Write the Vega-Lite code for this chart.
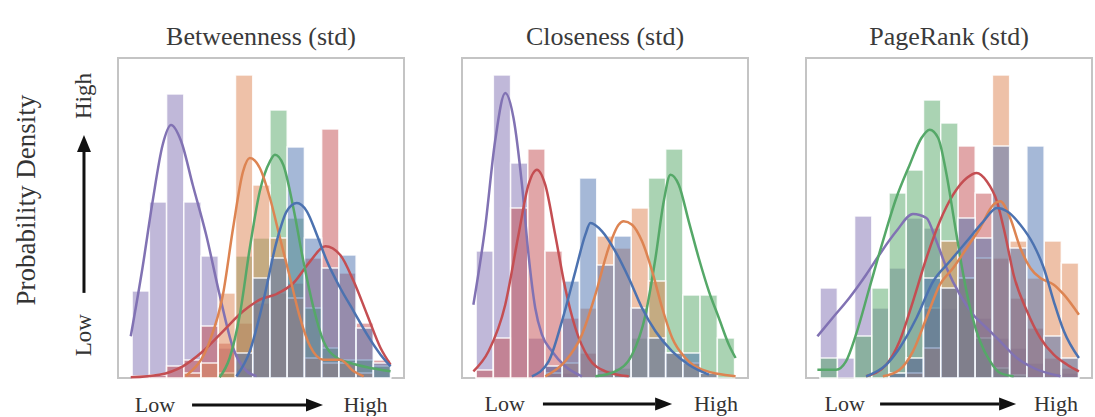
{
"$schema":"https://vega.github.io/schema/vega-lite/v6.json",
"padding":{"left":0,"top":23,"right":0,"bottom":0},
"background":"white",
"config":{"view":{"stroke":"#c4c4c4","strokeWidth":2},"font":"Liberation Serif"},
"datasets":{
"bars":[
{"p":"B","s":"g1","b":0,"e":1,"h":87},{"p":"B","s":"g1","b":1,"e":2,"h":176},{"p":"B","s":"g1","b":2,"e":3,"h":284},{"p":"B","s":"g1","b":3,"e":4,"h":176},{"p":"B","s":"g1","b":4,"e":5,"h":122},{"p":"B","s":"g1","b":5,"e":6,"h":30},{"p":"B","s":"g1","b":6,"e":7,"h":10},
{"p":"B","s":"g2","b":0,"e":1,"h":2},{"p":"B","s":"g2","b":1,"e":2,"h":3},{"p":"B","s":"g2","b":2,"e":3,"h":12},{"p":"B","s":"g2","b":3,"e":4,"h":18},{"p":"B","s":"g2","b":4,"e":5,"h":52},{"p":"B","s":"g2","b":5,"e":6,"h":35},{"p":"B","s":"g2","b":6,"e":7,"h":55},{"p":"B","s":"g2","b":7,"e":8,"h":75},{"p":"B","s":"g2","b":8,"e":9,"h":85},{"p":"B","s":"g2","b":9,"e":10,"h":95},{"p":"B","s":"g2","b":10,"e":11,"h":120},{"p":"B","s":"g2","b":11,"e":12,"h":249},{"p":"B","s":"g2","b":12,"e":13,"h":105},{"p":"B","s":"g2","b":13,"e":14,"h":55},{"p":"B","s":"g2","b":14,"e":15,"h":18},
{"p":"B","s":"g3","b":5,"e":6,"h":5},{"p":"B","s":"g3","b":6,"e":7,"h":122},{"p":"B","s":"g3","b":7,"e":8,"h":140},{"p":"B","s":"g3","b":8,"e":9,"h":268},{"p":"B","s":"g3","b":9,"e":10,"h":160},{"p":"B","s":"g3","b":10,"e":11,"h":70},{"p":"B","s":"g3","b":11,"e":12,"h":30},{"p":"B","s":"g3","b":12,"e":13,"h":18},{"p":"B","s":"g3","b":13,"e":14,"h":18},{"p":"B","s":"g3","b":14,"e":15,"h":12},
{"p":"B","s":"g4","b":3,"e":4,"h":5},{"p":"B","s":"g4","b":4,"e":5,"h":15},{"p":"B","s":"g4","b":5,"e":6,"h":85},{"p":"B","s":"g4","b":6,"e":7,"h":303},{"p":"B","s":"g4","b":7,"e":8,"h":193},{"p":"B","s":"g4","b":8,"e":9,"h":140},{"p":"B","s":"g4","b":9,"e":10,"h":80},{"p":"B","s":"g4","b":10,"e":11,"h":20},{"p":"B","s":"g4","b":11,"e":12,"h":15},{"p":"B","s":"g4","b":12,"e":13,"h":15},{"p":"B","s":"g4","b":13,"e":14,"h":5},
{"p":"B","s":"g5","b":6,"e":7,"h":25},{"p":"B","s":"g5","b":7,"e":8,"h":100},{"p":"B","s":"g5","b":8,"e":9,"h":120},{"p":"B","s":"g5","b":9,"e":10,"h":231},{"p":"B","s":"g5","b":10,"e":11,"h":140},{"p":"B","s":"g5","b":11,"e":12,"h":110},{"p":"B","s":"g5","b":12,"e":13,"h":123},{"p":"B","s":"g5","b":13,"e":14,"h":50},{"p":"B","s":"g5","b":14,"e":15,"h":15},
{"p":"C","s":"g1","b":0,"e":1,"h":127},{"p":"C","s":"g1","b":1,"e":2,"h":303},{"p":"C","s":"g1","b":2,"e":3,"h":215},{"p":"C","s":"g1","b":3,"e":4,"h":40},{"p":"C","s":"g1","b":4,"e":5,"h":12},{"p":"C","s":"g1","b":5,"e":6,"h":5},
{"p":"C","s":"g2","b":0,"e":1,"h":8},{"p":"C","s":"g2","b":1,"e":2,"h":40},{"p":"C","s":"g2","b":2,"e":3,"h":170},{"p":"C","s":"g2","b":3,"e":4,"h":229},{"p":"C","s":"g2","b":4,"e":5,"h":127},{"p":"C","s":"g2","b":5,"e":6,"h":60},{"p":"C","s":"g2","b":6,"e":7,"h":25},{"p":"C","s":"g2","b":7,"e":8,"h":8},{"p":"C","s":"g2","b":8,"e":9,"h":3},
{"p":"C","s":"g3","b":7,"e":8,"h":5},{"p":"C","s":"g3","b":8,"e":9,"h":10},{"p":"C","s":"g3","b":9,"e":10,"h":40},{"p":"C","s":"g3","b":10,"e":11,"h":200},{"p":"C","s":"g3","b":11,"e":12,"h":229},{"p":"C","s":"g3","b":12,"e":13,"h":83},{"p":"C","s":"g3","b":13,"e":14,"h":83},{"p":"C","s":"g3","b":14,"e":15,"h":40},
{"p":"C","s":"g4","b":4,"e":5,"h":5},{"p":"C","s":"g4","b":5,"e":6,"h":15},{"p":"C","s":"g4","b":6,"e":7,"h":70},{"p":"C","s":"g4","b":7,"e":8,"h":142},{"p":"C","s":"g4","b":8,"e":9,"h":130},{"p":"C","s":"g4","b":9,"e":10,"h":170},{"p":"C","s":"g4","b":10,"e":11,"h":97},{"p":"C","s":"g4","b":11,"e":12,"h":25},{"p":"C","s":"g4","b":12,"e":13,"h":15},{"p":"C","s":"g4","b":13,"e":14,"h":5},
{"p":"C","s":"g5","b":4,"e":5,"h":12},{"p":"C","s":"g5","b":5,"e":6,"h":97},{"p":"C","s":"g5","b":6,"e":7,"h":200},{"p":"C","s":"g5","b":7,"e":8,"h":113},{"p":"C","s":"g5","b":8,"e":9,"h":142},{"p":"C","s":"g5","b":9,"e":10,"h":70},{"p":"C","s":"g5","b":10,"e":11,"h":40},{"p":"C","s":"g5","b":11,"e":12,"h":25},{"p":"C","s":"g5","b":12,"e":13,"h":25},{"p":"C","s":"g5","b":13,"e":14,"h":5},
{"p":"P","s":"g1","b":0,"e":1,"h":90},{"p":"P","s":"g1","b":1,"e":2,"h":20},{"p":"P","s":"g1","b":2,"e":3,"h":162},{"p":"P","s":"g1","b":3,"e":4,"h":70},{"p":"P","s":"g1","b":4,"e":5,"h":110},{"p":"P","s":"g1","b":5,"e":6,"h":160},{"p":"P","s":"g1","b":6,"e":7,"h":150},{"p":"P","s":"g1","b":7,"e":8,"h":70},{"p":"P","s":"g1","b":8,"e":9,"h":100},{"p":"P","s":"g1","b":9,"e":10,"h":60},{"p":"P","s":"g1","b":10,"e":11,"h":40},{"p":"P","s":"g1","b":11,"e":12,"h":30},{"p":"P","s":"g1","b":12,"e":13,"h":15},{"p":"P","s":"g1","b":13,"e":14,"h":5},{"p":"P","s":"g1","b":14,"e":15,"h":5},
{"p":"P","s":"g2","b":4,"e":5,"h":5},{"p":"P","s":"g2","b":5,"e":6,"h":20},{"p":"P","s":"g2","b":6,"e":7,"h":70},{"p":"P","s":"g2","b":7,"e":8,"h":90},{"p":"P","s":"g2","b":8,"e":9,"h":232},{"p":"P","s":"g2","b":9,"e":10,"h":185},{"p":"P","s":"g2","b":10,"e":11,"h":120},{"p":"P","s":"g2","b":11,"e":12,"h":80},{"p":"P","s":"g2","b":12,"e":13,"h":50},{"p":"P","s":"g2","b":13,"e":14,"h":20},{"p":"P","s":"g2","b":14,"e":15,"h":10},
{"p":"P","s":"g3","b":0,"e":1,"h":20},{"p":"P","s":"g3","b":2,"e":3,"h":42},{"p":"P","s":"g3","b":3,"e":4,"h":90},{"p":"P","s":"g3","b":4,"e":5,"h":185},{"p":"P","s":"g3","b":5,"e":6,"h":208},{"p":"P","s":"g3","b":6,"e":7,"h":278},{"p":"P","s":"g3","b":7,"e":8,"h":255},{"p":"P","s":"g3","b":8,"e":9,"h":100},{"p":"P","s":"g3","b":9,"e":10,"h":40},{"p":"P","s":"g3","b":10,"e":11,"h":10},{"p":"P","s":"g3","b":11,"e":12,"h":3},
{"p":"P","s":"g4","b":5,"e":6,"h":5},{"p":"P","s":"g4","b":6,"e":7,"h":30},{"p":"P","s":"g4","b":7,"e":8,"h":137},{"p":"P","s":"g4","b":8,"e":9,"h":100},{"p":"P","s":"g4","b":9,"e":10,"h":120},{"p":"P","s":"g4","b":10,"e":11,"h":303},{"p":"P","s":"g4","b":11,"e":12,"h":137},{"p":"P","s":"g4","b":12,"e":13,"h":100},{"p":"P","s":"g4","b":13,"e":14,"h":137},{"p":"P","s":"g4","b":14,"e":15,"h":115},
{"p":"P","s":"g5","b":4,"e":5,"h":5},{"p":"P","s":"g5","b":5,"e":6,"h":20},{"p":"P","s":"g5","b":6,"e":7,"h":100},{"p":"P","s":"g5","b":7,"e":8,"h":90},{"p":"P","s":"g5","b":8,"e":9,"h":160},{"p":"P","s":"g5","b":9,"e":10,"h":140},{"p":"P","s":"g5","b":10,"e":11,"h":232},{"p":"P","s":"g5","b":11,"e":12,"h":130},{"p":"P","s":"g5","b":12,"e":13,"h":232},{"p":"P","s":"g5","b":13,"e":14,"h":42},{"p":"P","s":"g5","b":14,"e":15,"h":20}
],
"kde":[
{"p":"B","s":"g1","x":-0.08,"y":41.7},{"p":"B","s":"g1","x":0.6,"y":110},{"p":"B","s":"g1","x":1.19,"y":176.7},{"p":"B","s":"g1","x":1.77,"y":233},{"p":"B","s":"g1","x":2.26,"y":253},{"p":"B","s":"g1","x":2.84,"y":237},{"p":"B","s":"g1","x":3.52,"y":193},{"p":"B","s":"g1","x":4.3,"y":143},{"p":"B","s":"g1","x":5.08,"y":83},{"p":"B","s":"g1","x":5.86,"y":30},{"p":"B","s":"g1","x":6.64,"y":7},{"p":"B","s":"g1","x":7.22,"y":2},
{"p":"B","s":"g2","x":-0.08,"y":0.7},{"p":"B","s":"g2","x":1.58,"y":3.3},{"p":"B","s":"g2","x":2.94,"y":11.7},{"p":"B","s":"g2","x":4.11,"y":26.7},{"p":"B","s":"g2","x":5.27,"y":46.7},{"p":"B","s":"g2","x":6.44,"y":66.7},{"p":"B","s":"g2","x":7.41,"y":78.3},{"p":"B","s":"g2","x":8.39,"y":84},{"p":"B","s":"g2","x":9.36,"y":95},{"p":"B","s":"g2","x":10.33,"y":116.7},{"p":"B","s":"g2","x":11.21,"y":131.7},{"p":"B","s":"g2","x":12.08,"y":123},{"p":"B","s":"g2","x":12.86,"y":96.7},{"p":"B","s":"g2","x":13.64,"y":63.3},{"p":"B","s":"g2","x":14.42,"y":30},{"p":"B","s":"g2","x":15.0,"y":13.3},
{"p":"B","s":"g3","x":5.08,"y":0.7},{"p":"B","s":"g3","x":5.66,"y":20},{"p":"B","s":"g3","x":6.25,"y":63.3},{"p":"B","s":"g3","x":6.83,"y":130},{"p":"B","s":"g3","x":7.41,"y":186.7},{"p":"B","s":"g3","x":8.0,"y":216.7},{"p":"B","s":"g3","x":8.29,"y":223.3},{"p":"B","s":"g3","x":8.77,"y":213.3},{"p":"B","s":"g3","x":9.36,"y":170},{"p":"B","s":"g3","x":9.94,"y":116.7},{"p":"B","s":"g3","x":10.53,"y":70},{"p":"B","s":"g3","x":11.11,"y":36.7},{"p":"B","s":"g3","x":11.89,"y":20},{"p":"B","s":"g3","x":12.67,"y":15},{"p":"B","s":"g3","x":13.64,"y":10.7},{"p":"B","s":"g3","x":15.0,"y":6.7},
{"p":"B","s":"g4","x":3.13,"y":2.3},{"p":"B","s":"g4","x":4.5,"y":36.7},{"p":"B","s":"g4","x":5.27,"y":83.3},{"p":"B","s":"g4","x":5.86,"y":150},{"p":"B","s":"g4","x":6.44,"y":206.7},{"p":"B","s":"g4","x":6.83,"y":220},{"p":"B","s":"g4","x":7.41,"y":210},{"p":"B","s":"g4","x":8.0,"y":180},{"p":"B","s":"g4","x":8.58,"y":140},{"p":"B","s":"g4","x":9.17,"y":100},{"p":"B","s":"g4","x":9.75,"y":60},{"p":"B","s":"g4","x":10.33,"y":31.7},{"p":"B","s":"g4","x":11.11,"y":18.3},{"p":"B","s":"g4","x":12.08,"y":18.3},{"p":"B","s":"g4","x":12.86,"y":6.7},{"p":"B","s":"g4","x":13.44,"y":1.7},
{"p":"B","s":"g5","x":6.05,"y":1.7},{"p":"B","s":"g5","x":6.83,"y":26.7},{"p":"B","s":"g5","x":7.61,"y":76.7},{"p":"B","s":"g5","x":8.39,"y":136.7},{"p":"B","s":"g5","x":8.97,"y":166.7},{"p":"B","s":"g5","x":9.56,"y":175},{"p":"B","s":"g5","x":10.14,"y":166.7},{"p":"B","s":"g5","x":10.72,"y":143.3},{"p":"B","s":"g5","x":11.31,"y":116.7},{"p":"B","s":"g5","x":12.08,"y":90},{"p":"B","s":"g5","x":12.86,"y":66.7},{"p":"B","s":"g5","x":13.64,"y":43.3},{"p":"B","s":"g5","x":14.42,"y":23.3},{"p":"B","s":"g5","x":15.0,"y":11.7},
{"p":"C","s":"g1","x":-0.16,"y":73.3},{"p":"C","s":"g1","x":0.52,"y":150},{"p":"C","s":"g1","x":1.1,"y":236.7},{"p":"C","s":"g1","x":1.69,"y":285},{"p":"C","s":"g1","x":2.17,"y":260},{"p":"C","s":"g1","x":2.66,"y":193.3},{"p":"C","s":"g1","x":3.04,"y":123.3},{"p":"C","s":"g1","x":3.43,"y":70},{"p":"C","s":"g1","x":3.82,"y":43.3},{"p":"C","s":"g1","x":4.4,"y":26.7},{"p":"C","s":"g1","x":5.17,"y":11.7},{"p":"C","s":"g1","x":6.14,"y":1.7},
{"p":"C","s":"g2","x":-0.16,"y":6.7},{"p":"C","s":"g2","x":0.72,"y":26.7},{"p":"C","s":"g2","x":1.69,"y":73.3},{"p":"C","s":"g2","x":2.46,"y":143.3},{"p":"C","s":"g2","x":3.04,"y":193.3},{"p":"C","s":"g2","x":3.53,"y":208.3},{"p":"C","s":"g2","x":4.01,"y":193.3},{"p":"C","s":"g2","x":4.59,"y":143.3},{"p":"C","s":"g2","x":5.17,"y":90},{"p":"C","s":"g2","x":5.76,"y":50},{"p":"C","s":"g2","x":6.53,"y":20},{"p":"C","s":"g2","x":7.5,"y":6.7},{"p":"C","s":"g2","x":8.86,"y":1.7},
{"p":"C","s":"g3","x":6.92,"y":1.7},{"p":"C","s":"g3","x":8.08,"y":6.7},{"p":"C","s":"g3","x":9.05,"y":23.3},{"p":"C","s":"g3","x":9.83,"y":63.3},{"p":"C","s":"g3","x":10.41,"y":120},{"p":"C","s":"g3","x":10.89,"y":176.7},{"p":"C","s":"g3","x":11.28,"y":203.3},{"p":"C","s":"g3","x":11.76,"y":193.3},{"p":"C","s":"g3","x":12.34,"y":156.7},{"p":"C","s":"g3","x":12.92,"y":120},{"p":"C","s":"g3","x":13.51,"y":86.7},{"p":"C","s":"g3","x":14.09,"y":60},{"p":"C","s":"g3","x":14.67,"y":33.3},{"p":"C","s":"g3","x":15.06,"y":20},
{"p":"C","s":"g4","x":4.01,"y":1.7},{"p":"C","s":"g4","x":5.17,"y":16.7},{"p":"C","s":"g4","x":6.14,"y":43.3},{"p":"C","s":"g4","x":6.92,"y":83.3},{"p":"C","s":"g4","x":7.69,"y":130},{"p":"C","s":"g4","x":8.27,"y":153.3},{"p":"C","s":"g4","x":8.56,"y":156.7},{"p":"C","s":"g4","x":9.05,"y":153.3},{"p":"C","s":"g4","x":9.63,"y":136.7},{"p":"C","s":"g4","x":10.22,"y":106.7},{"p":"C","s":"g4","x":10.8,"y":70},{"p":"C","s":"g4","x":11.38,"y":40},{"p":"C","s":"g4","x":12.15,"y":20},{"p":"C","s":"g4","x":13.12,"y":8.3},{"p":"C","s":"g4","x":15.06,"y":1.7},
{"p":"C","s":"g5","x":3.24,"y":1.7},{"p":"C","s":"g5","x":4.21,"y":16.7},{"p":"C","s":"g5","x":4.98,"y":56.7},{"p":"C","s":"g5","x":5.76,"y":106.7},{"p":"C","s":"g5","x":6.34,"y":143.3},{"p":"C","s":"g5","x":6.63,"y":155},{"p":"C","s":"g5","x":7.31,"y":146.7},{"p":"C","s":"g5","x":8.08,"y":126.7},{"p":"C","s":"g5","x":8.86,"y":100},{"p":"C","s":"g5","x":9.63,"y":70},{"p":"C","s":"g5","x":10.41,"y":46.7},{"p":"C","s":"g5","x":11.38,"y":26.7},{"p":"C","s":"g5","x":12.34,"y":13.3},{"p":"C","s":"g5","x":13.51,"y":3.3},
{"p":"P","s":"g1","x":-0.16,"y":41.7},{"p":"P","s":"g1","x":0.72,"y":60},{"p":"P","s":"g1","x":1.69,"y":80},{"p":"P","s":"g1","x":2.67,"y":103.3},{"p":"P","s":"g1","x":3.44,"y":123.3},{"p":"P","s":"g1","x":4.42,"y":146.7},{"p":"P","s":"g1","x":5.39,"y":164},{"p":"P","s":"g1","x":6.17,"y":160},{"p":"P","s":"g1","x":6.75,"y":136.7},{"p":"P","s":"g1","x":7.34,"y":110},{"p":"P","s":"g1","x":8.11,"y":83.3},{"p":"P","s":"g1","x":8.89,"y":63.3},{"p":"P","s":"g1","x":9.67,"y":50},{"p":"P","s":"g1","x":10.45,"y":36.7},{"p":"P","s":"g1","x":11.42,"y":20},{"p":"P","s":"g1","x":12.39,"y":10},{"p":"P","s":"g1","x":13.95,"y":1.7},
{"p":"P","s":"g2","x":2.67,"y":1.7},{"p":"P","s":"g2","x":3.84,"y":13.3},{"p":"P","s":"g2","x":4.61,"y":36.7},{"p":"P","s":"g2","x":5.39,"y":76.7},{"p":"P","s":"g2","x":6.17,"y":120},{"p":"P","s":"g2","x":6.95,"y":156.7},{"p":"P","s":"g2","x":7.72,"y":183.3},{"p":"P","s":"g2","x":8.51,"y":200},{"p":"P","s":"g2","x":9.09,"y":205},{"p":"P","s":"g2","x":9.67,"y":196.7},{"p":"P","s":"g2","x":10.26,"y":176.7},{"p":"P","s":"g2","x":10.74,"y":143.3},{"p":"P","s":"g2","x":11.23,"y":103.3},{"p":"P","s":"g2","x":12.01,"y":66.7},{"p":"P","s":"g2","x":12.78,"y":40},{"p":"P","s":"g2","x":13.56,"y":23.3},{"p":"P","s":"g2","x":14.34,"y":13.3},{"p":"P","s":"g2","x":15.02,"y":6.7},
{"p":"P","s":"g3","x":-0.16,"y":8.3},{"p":"P","s":"g3","x":0.92,"y":8.3},{"p":"P","s":"g3","x":1.5,"y":16.7},{"p":"P","s":"g3","x":2.08,"y":43.3},{"p":"P","s":"g3","x":2.86,"y":90},{"p":"P","s":"g3","x":3.64,"y":136.7},{"p":"P","s":"g3","x":4.42,"y":180},{"p":"P","s":"g3","x":5.2,"y":213.3},{"p":"P","s":"g3","x":5.88,"y":240},{"p":"P","s":"g3","x":6.36,"y":248.3},{"p":"P","s":"g3","x":6.85,"y":240},{"p":"P","s":"g3","x":7.34,"y":203.3},{"p":"P","s":"g3","x":7.82,"y":153.3},{"p":"P","s":"g3","x":8.31,"y":103.3},{"p":"P","s":"g3","x":8.8,"y":63.3},{"p":"P","s":"g3","x":9.28,"y":36.7},{"p":"P","s":"g3","x":9.87,"y":16.7},{"p":"P","s":"g3","x":10.45,"y":5},{"p":"P","s":"g3","x":11.23,"y":1.7},
{"p":"P","s":"g4","x":3.64,"y":1.7},{"p":"P","s":"g4","x":4.61,"y":8.3},{"p":"P","s":"g4","x":5.39,"y":26.7},{"p":"P","s":"g4","x":6.17,"y":60},{"p":"P","s":"g4","x":6.95,"y":93.3},{"p":"P","s":"g4","x":7.72,"y":110},{"p":"P","s":"g4","x":8.51,"y":130},{"p":"P","s":"g4","x":9.28,"y":150},{"p":"P","s":"g4","x":10.06,"y":173.3},{"p":"P","s":"g4","x":10.45,"y":176.7},{"p":"P","s":"g4","x":11.03,"y":160},{"p":"P","s":"g4","x":11.62,"y":130},{"p":"P","s":"g4","x":12.2,"y":110},{"p":"P","s":"g4","x":12.78,"y":100},{"p":"P","s":"g4","x":13.56,"y":93.3},{"p":"P","s":"g4","x":14.15,"y":83.3},{"p":"P","s":"g4","x":15.02,"y":63.3},
{"p":"P","s":"g5","x":2.67,"y":1.7},{"p":"P","s":"g5","x":3.84,"y":13.3},{"p":"P","s":"g5","x":4.61,"y":30},{"p":"P","s":"g5","x":5.59,"y":60},{"p":"P","s":"g5","x":6.56,"y":96.7},{"p":"P","s":"g5","x":7.53,"y":116.7},{"p":"P","s":"g5","x":8.51,"y":136.7},{"p":"P","s":"g5","x":9.48,"y":156.7},{"p":"P","s":"g5","x":10.26,"y":170},{"p":"P","s":"g5","x":10.84,"y":166.7},{"p":"P","s":"g5","x":11.62,"y":153.3},{"p":"P","s":"g5","x":12.39,"y":133.3},{"p":"P","s":"g5","x":12.98,"y":110},{"p":"P","s":"g5","x":13.56,"y":76.7},{"p":"P","s":"g5","x":14.15,"y":46.7},{"p":"P","s":"g5","x":15.02,"y":20}
]
},
"spacing":19,
"resolve":{"scale":{"x":"independent","y":"independent"}},
"hconcat":[
{
"width":98,"height":320,
"view":{"stroke":null},
"layer":[
{"data":{"values":[{"label":"Probability Density","x":0.276,"y":0.556}]},
"mark":{"type":"text","angle":-90,"font":"Liberation Serif","fontSize":27,"color":"#333333","align":"center","baseline":"middle"},
"encoding":{"x":{"field":"x","type":"quantitative","scale":{"domain":[0,1]},"axis":null},"y":{"field":"y","type":"quantitative","scale":{"domain":[0,1]},"axis":null},"text":{"field":"label"}}},
{"data":{"values":[{"label":"High","x":0.857,"y":0.881},{"label":"Low","x":0.857,"y":0.134}]},
"mark":{"type":"text","angle":-90,"font":"Liberation Serif","fontSize":23,"color":"#333333","align":"center","baseline":"middle"},
"encoding":{"x":{"field":"x","type":"quantitative"},"y":{"field":"y","type":"quantitative"},"text":{"field":"label"}}},
{"data":{"values":[{"x":0.857,"y":0.266,"y2":0.7125}]},
"mark":{"type":"rule","strokeWidth":3,"color":"#111111"},
"encoding":{"x":{"field":"x","type":"quantitative"},"y":{"field":"y","type":"quantitative"},"y2":{"field":"y2"}}},
{"data":{"values":[{"x":0.857,"y":0.733}]},
"mark":{"type":"point","shape":"M0,-1L0.82,1L-0.82,1Z","filled":true,"size":289,"color":"#111111","opacity":1},
"encoding":{"x":{"field":"x","type":"quantitative"},"y":{"field":"y","type":"quantitative"}}}
]
},
{
"spacing":56,
"resolve":{"scale":{"x":"independent","y":"independent"}},
"hconcat":[
{"spacing":10,"resolve":{"scale":{"x":"independent","y":"independent"}},"vconcat":[
{"width":286,"height":320,
"title":{"text":"Betweenness (std)","font":"Liberation Serif","fontSize":26,"fontWeight":"normal","color":"#3a3a3a","offset":8},
"layer":[
{"data":{"name":"bars"},"transform":[{"filter":"datum.p==='B'"}],
"mark":{"type":"bar","fillOpacity":0.5,"stroke":"white","strokeWidth":1.5,"strokeOpacity":0.85},
"encoding":{"x":{"field":"b","type":"quantitative","scale":{"domain":[-0.82,15.78],"nice":false,"zero":false},"axis":null},"x2":{"field":"e"},"y":{"field":"h","type":"quantitative","scale":{"domain":[0,320],"nice":false},"axis":null},"y2":{"datum":0},"color":{"field":"s","type":"nominal","scale":{"domain":["g1","g2","g3","g4","g5"],"range":["#8172b3","#c44e52","#55a868","#dd8452","#4c72b0"]},"legend":null}}},
{"data":{"name":"kde"},"transform":[{"filter":"datum.p==='B'"}],
"mark":{"type":"line","interpolate":"monotone","strokeWidth":2.5},
"encoding":{"x":{"field":"x","type":"quantitative"},"y":{"field":"y","type":"quantitative"},"color":{"field":"s","type":"nominal","legend":null}}}
]},
{"width":286,"height":22,"view":{"stroke":null},
"layer":[
{"data":{"values":[{"label":"Low","x":0.129},{"label":"High","x":0.865}]},
"mark":{"type":"text","font":"Liberation Serif","fontSize":22,"color":"#333333","align":"center","baseline":"middle"},
"encoding":{"x":{"field":"x","type":"quantitative","scale":{"domain":[0,1]},"axis":null},"y":{"datum":0.5,"type":"quantitative","scale":{"domain":[0,1]},"axis":null},"text":{"field":"label"}}},
{"data":{"values":[{"x":0.259,"x2":0.661}]},
"mark":{"type":"rule","strokeWidth":3,"color":"#111111"},
"encoding":{"x":{"field":"x","type":"quantitative"},"x2":{"field":"x2"},"y":{"datum":0.5,"type":"quantitative"}}},
{"data":{"values":[{"x":0.687}]},
"mark":{"type":"point","shape":"M-1,-0.76L1,0L-1,0.76Z","filled":true,"size":289,"color":"#111111","opacity":1},
"encoding":{"x":{"field":"x","type":"quantitative"},"y":{"datum":0.5,"type":"quantitative"}}}
]}
]},
{"spacing":10,"resolve":{"scale":{"x":"independent","y":"independent"}},"vconcat":[
{"width":286,"height":320,
"title":{"text":"Closeness (std)","font":"Liberation Serif","fontSize":26,"fontWeight":"normal","color":"#3a3a3a","offset":8},
"layer":[
{"data":{"name":"bars"},"transform":[{"filter":"datum.p==='C'"}],
"mark":{"type":"bar","fillOpacity":0.5,"stroke":"white","strokeWidth":1.5,"strokeOpacity":0.85},
"encoding":{"x":{"field":"b","type":"quantitative","scale":{"domain":[-0.82,15.78],"nice":false,"zero":false},"axis":null},"x2":{"field":"e"},"y":{"field":"h","type":"quantitative","scale":{"domain":[0,320],"nice":false},"axis":null},"y2":{"datum":0},"color":{"field":"s","type":"nominal","scale":{"domain":["g1","g2","g3","g4","g5"],"range":["#8172b3","#c44e52","#55a868","#dd8452","#4c72b0"]},"legend":null}}},
{"data":{"name":"kde"},"transform":[{"filter":"datum.p==='C'"}],
"mark":{"type":"line","interpolate":"monotone","strokeWidth":2.5},
"encoding":{"x":{"field":"x","type":"quantitative"},"y":{"field":"y","type":"quantitative"},"color":{"field":"s","type":"nominal","legend":null}}}
]},
{"width":286,"height":22,"view":{"stroke":null},
"layer":[
{"data":{"values":[{"label":"Low","x":0.149},{"label":"High","x":0.888}]},
"mark":{"type":"text","font":"Liberation Serif","fontSize":22,"color":"#333333","align":"center","baseline":"middle"},
"encoding":{"x":{"field":"x","type":"quantitative","scale":{"domain":[0,1]},"axis":null},"y":{"datum":0.5,"type":"quantitative","scale":{"domain":[0,1]},"axis":null},"text":{"field":"label"}}},
{"data":{"values":[{"x":0.283,"x2":0.675}]},
"mark":{"type":"rule","strokeWidth":3,"color":"#111111"},
"encoding":{"x":{"field":"x","type":"quantitative"},"x2":{"field":"x2"},"y":{"datum":0.5,"type":"quantitative"}}},
{"data":{"values":[{"x":0.705}]},
"mark":{"type":"point","shape":"M-1,-0.76L1,0L-1,0.76Z","filled":true,"size":289,"color":"#111111","opacity":1},
"encoding":{"x":{"field":"x","type":"quantitative"},"y":{"datum":0.5,"type":"quantitative"}}}
]}
]},
{"spacing":10,"resolve":{"scale":{"x":"independent","y":"independent"}},"vconcat":[
{"width":286,"height":320,
"title":{"text":"PageRank (std)","font":"Liberation Serif","fontSize":26,"fontWeight":"normal","color":"#3a3a3a","offset":8},
"layer":[
{"data":{"name":"bars"},"transform":[{"filter":"datum.p==='P'"}],
"mark":{"type":"bar","fillOpacity":0.5,"stroke":"white","strokeWidth":1.5,"strokeOpacity":0.85},
"encoding":{"x":{"field":"b","type":"quantitative","scale":{"domain":[-0.82,15.78],"nice":false,"zero":false},"axis":null},"x2":{"field":"e"},"y":{"field":"h","type":"quantitative","scale":{"domain":[0,320],"nice":false},"axis":null},"y2":{"datum":0},"color":{"field":"s","type":"nominal","scale":{"domain":["g1","g2","g3","g4","g5"],"range":["#8172b3","#c44e52","#55a868","#dd8452","#4c72b0"]},"legend":null}}},
{"data":{"name":"kde"},"transform":[{"filter":"datum.p==='P'"}],
"mark":{"type":"line","interpolate":"monotone","strokeWidth":2.5},
"encoding":{"x":{"field":"x","type":"quantitative"},"y":{"field":"y","type":"quantitative"},"color":{"field":"s","type":"nominal","legend":null}}}
]},
{"width":286,"height":22,"view":{"stroke":null},
"layer":[
{"data":{"values":[{"label":"Low","x":0.135},{"label":"High","x":0.874}]},
"mark":{"type":"text","font":"Liberation Serif","fontSize":22,"color":"#333333","align":"center","baseline":"middle"},
"encoding":{"x":{"field":"x","type":"quantitative","scale":{"domain":[0,1]},"axis":null},"y":{"datum":0.5,"type":"quantitative","scale":{"domain":[0,1]},"axis":null},"text":{"field":"label"}}},
{"data":{"values":[{"x":0.259,"x2":0.675}]},
"mark":{"type":"rule","strokeWidth":3,"color":"#111111"},
"encoding":{"x":{"field":"x","type":"quantitative"},"x2":{"field":"x2"},"y":{"datum":0.5,"type":"quantitative"}}},
{"data":{"values":[{"x":0.705}]},
"mark":{"type":"point","shape":"M-1,-0.76L1,0L-1,0.76Z","filled":true,"size":289,"color":"#111111","opacity":1},
"encoding":{"x":{"field":"x","type":"quantitative"},"y":{"datum":0.5,"type":"quantitative"}}}
]}
]}
]
}
]
}
